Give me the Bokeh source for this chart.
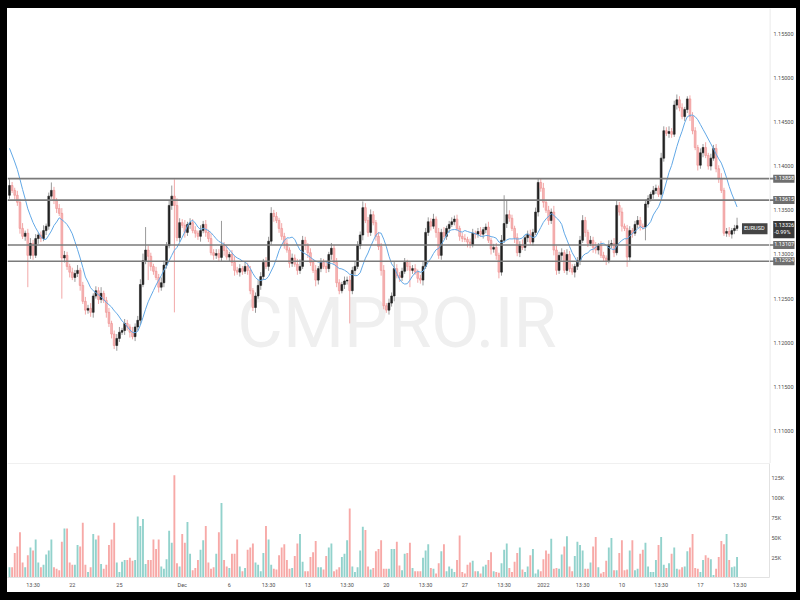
from bokeh.plotting import figure
from bokeh.layouts import column, row
from bokeh.models import Range1d, FixedTicker, Label, Span, ColumnDataSource, NumeralTickFormatter, Div
from bokeh.embed import file_html
from bokeh.resources import INLINE

# ---------------- data (EURUSD, 4H candles) ----------------
first_open = 1.1367
closes = [
    1.1378, 1.13725, 1.1367, 1.1359, 1.13295, 1.13205, 1.1324, 1.1299, 1.13125, 1.1299,
    1.1318, 1.1322, 1.1318, 1.1327, 1.1332, 1.1366, 1.13725, 1.1361, 1.1352, 1.13465,
    1.1296, 1.1299, 1.12865, 1.1280, 1.1274, 1.12785, 1.1282, 1.1265, 1.1247, 1.1237,
    1.1239, 1.12345, 1.1253, 1.1259, 1.1249, 1.1256, 1.1248, 1.12345, 1.1222, 1.1210,
    1.1197, 1.1205, 1.1212, 1.1214, 1.1222, 1.1218, 1.1212, 1.1207, 1.1218, 1.12255,
    1.1266, 1.1293, 1.1305, 1.1298, 1.12865, 1.1281, 1.1274, 1.1263, 1.1268, 1.1288,
    1.1310, 1.13555, 1.1366, 1.13555, 1.1319, 1.1336, 1.1333, 1.1325, 1.1334, 1.1336,
    1.1327, 1.1324, 1.13205, 1.1327, 1.1334, 1.1325, 1.1318, 1.1302, 1.1299, 1.1301,
    1.12967, 1.1310, 1.13046, 1.1297, 1.1300, 1.1291, 1.1282, 1.1280, 1.1284, 1.1281,
    1.12865, 1.1282, 1.1259, 1.1240, 1.1253, 1.1265, 1.1275, 1.1291, 1.12865, 1.1315,
    1.13465, 1.1343, 1.13385, 1.13295, 1.13205, 1.13125, 1.1305, 1.1290, 1.1296, 1.1289,
    1.1282, 1.12865, 1.1316, 1.1310, 1.1302, 1.1291, 1.1282, 1.1271, 1.1284, 1.1291,
    1.12865, 1.1284, 1.1300, 1.1307, 1.1291, 1.1268, 1.1259, 1.1266, 1.1270, 1.1271,
    1.1259, 1.1282, 1.12865, 1.1310, 1.1322, 1.1353, 1.13385, 1.1325, 1.1345, 1.1336,
    1.13205, 1.1309, 1.1282, 1.1242, 1.1237, 1.1245, 1.1253, 1.1284, 1.1276, 1.1274,
    1.1281, 1.1291, 1.12865, 1.1282, 1.1284, 1.1280, 1.1273, 1.1271, 1.12865, 1.1325,
    1.1337, 1.1332, 1.1340, 1.1325, 1.1299, 1.1325, 1.13205, 1.13295, 1.1334, 1.1337,
    1.1340, 1.13295, 1.13205, 1.1318, 1.1317, 1.1314, 1.1311, 1.1324, 1.1323, 1.1326,
    1.1323, 1.1328, 1.1331, 1.1316, 1.1306, 1.1308, 1.1299, 1.1280, 1.1316, 1.1335,
    1.1345, 1.1341, 1.13295, 1.1319, 1.1302, 1.1311, 1.1308, 1.1319, 1.1323, 1.1314,
    1.1325, 1.1348, 1.13815, 1.1375, 1.1359, 1.1350, 1.13385, 1.1348, 1.1305, 1.1282,
    1.1299, 1.1302, 1.1282, 1.1300, 1.1284, 1.1280, 1.12865, 1.1293, 1.1316, 1.13385,
    1.1325, 1.13125, 1.1316, 1.1308, 1.1305, 1.1310, 1.1299, 1.1296, 1.1293, 1.1311,
    1.13125, 1.1302, 1.13555, 1.1348, 1.1332, 1.13295, 1.1297, 1.1327, 1.1324, 1.1334,
    1.13385, 1.1332, 1.1331, 1.1357, 1.1363, 1.1368, 1.13725, 1.1375, 1.1368, 1.1409,
    1.1440, 1.1437, 1.1439, 1.1436, 1.1469, 1.1475, 1.1466, 1.1456, 1.1464, 1.1476,
    1.1456, 1.1440, 1.1421, 1.1401, 1.1415, 1.1421, 1.1412, 1.1400, 1.1409, 1.1420,
    1.1397, 1.1386, 1.13725, 1.1324, 1.1326, 1.1323, 1.1327, 1.13295, 1.13326,
]
upper_wick_pips = [
    7, 4, 3, 5, 4, 6, 3, 5, 6, 4,   5, 3, 4, 6, 3, 4, 9, 4, 3, 5,
    6, 5, 4, 3, 5, 4, 6, 3, 4, 5,   4, 6, 3, 5, 4, 7, 3, 4, 5, 3,
    4, 5, 6, 3, 5, 4, 3, 6, 4, 5,   6, 8, 26, 5, 4, 3, 5, 4, 6, 5,
    4, 6, 12, 19, 8, 5, 4, 6, 3, 5, 4, 5, 3, 6, 4, 5, 3, 6, 4, 5,
    5, 28, 4, 6, 3, 5, 7, 4, 5, 3,  6, 4, 5, 3, 4, 6, 5, 4, 6, 5,
    7, 4, 5, 3, 6, 4, 5, 3, 5, 4,   6, 8, 5, 4, 3, 5, 4, 6, 3, 5,
    4, 5, 3, 6, 4, 5, 4, 3, 5, 4,   5, 4, 6, 5, 4, 7, 5, 4, 6, 4,
    3, 5, 4, 6, 3, 5, 4, 8, 5, 4,   4, 5, 3, 6, 4, 5, 3, 4, 6, 5,
    5, 4, 6, 3, 5, 4, 6, 3, 4, 5,   4, 5, 3, 4, 5, 3, 4, 5, 3, 4,
    5, 3, 4, 6, 3, 4, 5, 3, 6, 32,  16, 5, 4, 3, 5, 4, 6, 3, 4, 5,
    4, 5, 5, 4, 6, 3, 5, 4, 7, 5,   4, 5, 3, 6, 4, 5, 3, 4, 5, 6,
    4, 3, 5, 4, 6, 3, 5, 4, 3, 5,   4, 6, 6, 4, 5, 3, 4, 5, 3, 4,
    5, 4, 3, 5, 4, 3, 5, 4, 3, 6,   5, 4, 6, 4, 5, 6, 4, 5, 3, 3,
    4, 5, 4, 3, 5, 4, 6, 3, 5, 4,   5, 4, 6, 3, 4, 5, 3, 4, 9,
]
lower_wick_pips = [
    4, 3, 5, 4, 6, 3, 5, 36, 4, 5,  3, 6, 4, 3, 5, 4, 3, 4, 5, 3,
    46, 5, 4, 6, 3, 5, 4, 6, 3, 5,  4, 5, 6, 3, 5, 4, 3, 6, 4, 5,
    4, 6, 4, 3, 5, 4, 6, 3, 5, 4,   5, 3, 4, 27, 5, 4, 3, 6, 4, 5,
    4, 3, 5, 121, 4, 5, 3, 6, 4, 5, 3, 5, 4, 6, 3, 5, 4, 3, 5, 4,
    5, 4, 6, 3, 5, 4, 6, 3, 5, 4,   3, 5, 4, 4, 6, 3, 5, 4, 3, 5,
    4, 6, 3, 5, 4, 6, 3, 5, 4, 3,   5, 4, 3, 5, 6, 4, 3, 7, 5, 4,
    3, 5, 4, 6, 3, 5, 4, 3, 5, 4,   37, 4, 5, 3, 4, 6, 3, 5, 4, 3,
    5, 4, 6, 4, 3, 5, 4, 6, 3, 5,   4, 3, 5, 19, 4, 3, 5, 4, 6, 3,
    4, 5, 3, 6, 4, 5, 3, 4, 5, 3,   4, 3, 5, 4, 3, 6, 4, 3, 5, 4,
    3, 5, 4, 3, 6, 4, 5, 7, 4, 3,   5, 4, 3, 6, 4, 5, 3, 4, 5, 3,
    4, 3, 5, 4, 6, 3, 5, 4, 6, 5,   4, 6, 3, 5, 4, 3, 6, 4, 5, 3,
    5, 4, 3, 6, 4, 5, 3, 4, 5, 3,   4, 5, 3, 4, 6, 3, 11, 4, 5, 3,
    4, 5, 3, 15, 4, 3, 5, 4, 3, 5,  4, 3, 5, 4, 3, 5, 4, 3, 5, 4,
    5, 4, 3, 6, 4, 5, 3, 4, 5, 3,   4, 5, 3, 3, 4, 3, 5, 4, 3,
]
volume_k = [
    13, 13, 31, 39, 57, 19, 13, 28, 38, 34, 48, 19, 13, 16, 29, 34, 48, 13, 11, 9,
    45, 62, 62, 19, 16, 16, 41, 39, 69, 16, 7, 13, 55, 48, 53, 17, 11, 16, 41, 48,
    69, 19, 7, 20, 22, 22, 25, 21, 22, 77, 65, 74, 17, 22, 22, 48, 36, 48, 14, 11,
    23, 59, 44, 129, 18, 14, 55, 44, 70, 30, 9, 12, 22, 35, 47, 65, 19, 11, 13, 30,
    57, 94, 22, 14, 12, 30, 30, 48, 14, 8, 12, 35, 38, 43, 19, 16, 8, 31, 65, 48,
    16, 11, 10, 28, 38, 42, 22, 11, 12, 27, 43, 55, 20, 8, 8, 26, 32, 46, 13, 13,
    10, 27, 38, 43, 8, 10, 13, 26, 30, 47, 87, 14, 7, 13, 34, 64, 60, 14, 10, 12,
    33, 36, 47, 11, 11, 11, 36, 36, 45, 15,
    9, 30, 31, 44, 12, 8, 8, 8, 25, 34, 42, 12, 11, 5, 18, 33, 42, 8, 14, 11,
    7, 22, 53, 7, 5, 16, 19, 21, 8, 8, 5, 14, 16, 22, 32, 8, 7, 6, 18, 35,
    43, 12, 7, 20, 31, 38, 10, 7, 14, 28, 36, 5, 10, 8, 23, 34, 30, 49, 11, 12,
    11, 29, 39, 52, 14, 8, 27, 45, 41, 34, 11, 11, 19, 39, 51, 13, 5, 7, 21, 38,
    50, 9, 9, 31, 47, 9, 10, 34, 47, 9, 11, 30, 35, 44, 14, 7, 7, 22, 41, 51,
    16, 12, 18, 30, 38, 11, 10, 13, 14, 33, 38, 55, 12, 11, 7, 22, 28, 25, 23, 3,
    11, 26, 46, 42, 55, 22, 13, 14, 26,
]
# closes of the bars just before the visible window (feed the moving average)
prior_closes = [1.1448, 1.1446, 1.1444, 1.1440, 1.1436, 1.1430, 1.1412, 1.1392, 1.1375]
MA_LEN = 10

levels = [1.13858, 1.13615, 1.13107, 1.12924]
symbol = "EURUSD"
last_price = 1.13326
change_text = "-0.99%"
watermark = "CMPRO.IR"

price_ticks = [1.110, 1.115, 1.120, 1.125, 1.130, 1.135, 1.140, 1.145, 1.150, 1.155]
vol_ticks = [25000, 50000, 75000, 100000, 125000]
vol_tick_labels = ["25K", "50K", "75K", "100K", "125K"]
time_tick_idx = [9, 24, 42, 66, 84, 99, 114, 129, 144, 159, 174, 189, 204, 219, 234, 249, 264, 279]
time_tick_labels = ["13:30", "22", "25", "Dec", "6", "13:30", "13", "13:30", "20", "13:30",
                    "27", "13:30", "2022", "13:30", "10", "13:30", "17", "13:30"]

# ---------------- derived ----------------
n = len(closes)
idx = list(range(n))
opens = [first_open] + closes[:-1]
tops = [max(o, c) for o, c in zip(opens, closes)]
bottoms = [min(o, c) for o, c in zip(opens, closes)]
highs = [t + u / 10000 for t, u in zip(tops, upper_wick_pips)]
lows = [b - l / 10000 for b, l in zip(bottoms, lower_wick_pips)]
is_up = [c >= o for o, c in zip(opens, closes)]
series = prior_closes + closes
ma = [sum(series[i:i + MA_LEN]) / MA_LEN for i in range(n)]

UP_BODY, DOWN_BODY = "#222222", "#f6b6b6"
UP_LINE, DOWN_LINE = "#222222", "#ef9090"
UP_WICK, DOWN_WICK = "#9a9a9a", "#f2a8a8"
VOL_UP, VOL_DOWN = "#92d2cc", "#f7a9a7"

src = ColumnDataSource(dict(
    x=idx, top=tops, bottom=bottoms, high=highs, low=lows,
    body=[UP_BODY if u else DOWN_BODY for u in is_up],
    line=[UP_LINE if u else DOWN_LINE for u in is_up],
    wick=[UP_WICK if u else DOWN_WICK for u in is_up],
    vol=[v * 1000 for v in volume_k],
    vcol=[VOL_UP if u else VOL_DOWN for u in is_up],
))

FONT = "Roboto"
AXIS_TEXT = "#4f4f4f"
GRID = "#e2e2e2"
FRAME_W = 762
RIGHT = 27
W = FRAME_W + RIGHT
X_END = 290.4

xr = Range1d(-0.764, X_END)
yr = Range1d(1.10635, 1.15783)


def style_axis(ax, standoff=2):
    ax.major_label_text_font = FONT
    ax.major_label_text_font_size = "5.5px"
    ax.major_label_text_color = AXIS_TEXT
    ax.major_tick_line_color = None
    ax.minor_tick_line_color = None
    ax.major_tick_out = 0
    ax.major_tick_in = 0
    ax.minor_tick_out = 0
    ax.minor_tick_in = 0
    ax.axis_line_color = GRID
    ax.major_label_standoff = standoff


# ---------------- price pane ----------------
p = figure(width=FRAME_W, height=455, x_range=xr, y_range=yr,
           x_axis_location=None, y_axis_location=None,
           output_backend="svg", toolbar_location=None,
           min_border_left=0, min_border_right=0, min_border_top=0, min_border_bottom=0)
p.outline_line_color = None
p.grid.visible = False

p.add_layout(Label(x=389.5, y=141, x_units="screen", y_units="screen", text=watermark,
                   text_font=FONT, text_font_size="70px", text_color="#efefef",
                   text_align="center", text_baseline="alphabetic", level="underlay"))

p.segment(x0="x", y0="low", x1="x", y1="high", line_color="wick", line_width=1, source=src)
p.vbar(x="x", width=0.7, top="top", bottom="bottom", fill_color="body", line_color="line",
       line_width=0.6, source=src)
p.line(idx, ma, line_color="#62a8e6", line_width=1)

for lv in levels:
    p.add_layout(Span(location=lv, dimension="width", line_color="#7a7a7a", line_width=1.6))

p.add_layout(Label(x=FRAME_W - 2, x_units="screen", y=last_price, y_offset=-3,
                   text=symbol, text_font=FONT, text_font_size="5.5px", text_color="white",
                   text_align="right", text_baseline="middle",
                   background_fill_color="#454545", padding=(2, 3, 2, 3)))

# ---------------- price scale strip (real axis, labels drawn inside the strip) ----------------
pa = figure(width=RIGHT, height=455, x_range=Range1d(0, RIGHT), y_range=yr,
            x_axis_location=None, y_axis_location="right",
            output_backend="svg", toolbar_location=None,
            min_border_left=0, min_border_right=0, min_border_top=0, min_border_bottom=0)
pa.outline_line_color = None
pa.grid.visible = False
pax = pa.yaxis[0]
pax.ticker = FixedTicker(ticks=price_ticks)
pax.formatter = NumeralTickFormatter(format="0.00000")
style_axis(pax, standoff=-21)
pax.axis_line_color = None
pa.add_layout(Span(location=0.5, dimension="height", line_color=GRID, line_width=1))
pa.add_layout(Span(location=yr.start, dimension="width", line_color=GRID, line_width=1))
for lv in levels:
    pa.add_layout(Span(location=lv, dimension="width", line_color="#7a7a7a", line_width=1.6))
    pa.add_layout(Label(x=4, y=lv, text=f"{lv:.5f}", text_font=FONT, text_font_size="5.5px",
                        text_color="white", text_align="left", text_baseline="middle",
                        background_fill_color="#6e6e6e", padding=(1, 4, 1, 3)))
pa.add_layout(Label(x=4, y=last_price, y_offset=-4, text=f"{last_price:.5f}\n{change_text}",
                    text_font=FONT, text_font_size="5.5px", text_color="white",
                    text_align="left", text_baseline="middle",
                    background_fill_color="#3a3a3a", padding=(1, 4, 1, 3)))

# ---------------- volume pane ----------------
v = figure(width=W, height=129, x_range=xr, y_range=Range1d(0, 143900),
           y_axis_location="right", output_backend="svg", toolbar_location=None,
           min_border_left=0, min_border_right=RIGHT, min_border_top=0, min_border_bottom=15)
v.outline_line_color = None
v.grid.visible = False
v.vbar(x="x", width=0.72, top="vol", bottom=0, fill_color="vcol", line_color=None, source=src)
v.add_layout(Span(location=143900, dimension="width", line_color=GRID, line_width=1))

vy = v.yaxis[0]
vy.ticker = FixedTicker(ticks=vol_ticks)
vy.major_label_overrides = {t: s for t, s in zip(vol_ticks, vol_tick_labels)}
vx = v.xaxis[0]
vx.ticker = FixedTicker(ticks=time_tick_idx)
vx.major_label_overrides = {t: s for t, s in zip(time_tick_idx, time_tick_labels)}
style_axis(vy)
style_axis(vx, standoff=4)


def black(w, h):
    return Div(width=w, height=h, margin=0, styles={"background-color": "#000000"})


chart = column(row(p, pa, spacing=0), v, spacing=0)
layout = column(black(800, 8),
                row(black(7, 584), chart, black(4, 584), spacing=0),
                black(800, 8), spacing=0)

html = file_html(layout, INLINE, title="EURUSD")
open("out.html", "w").write(html)
